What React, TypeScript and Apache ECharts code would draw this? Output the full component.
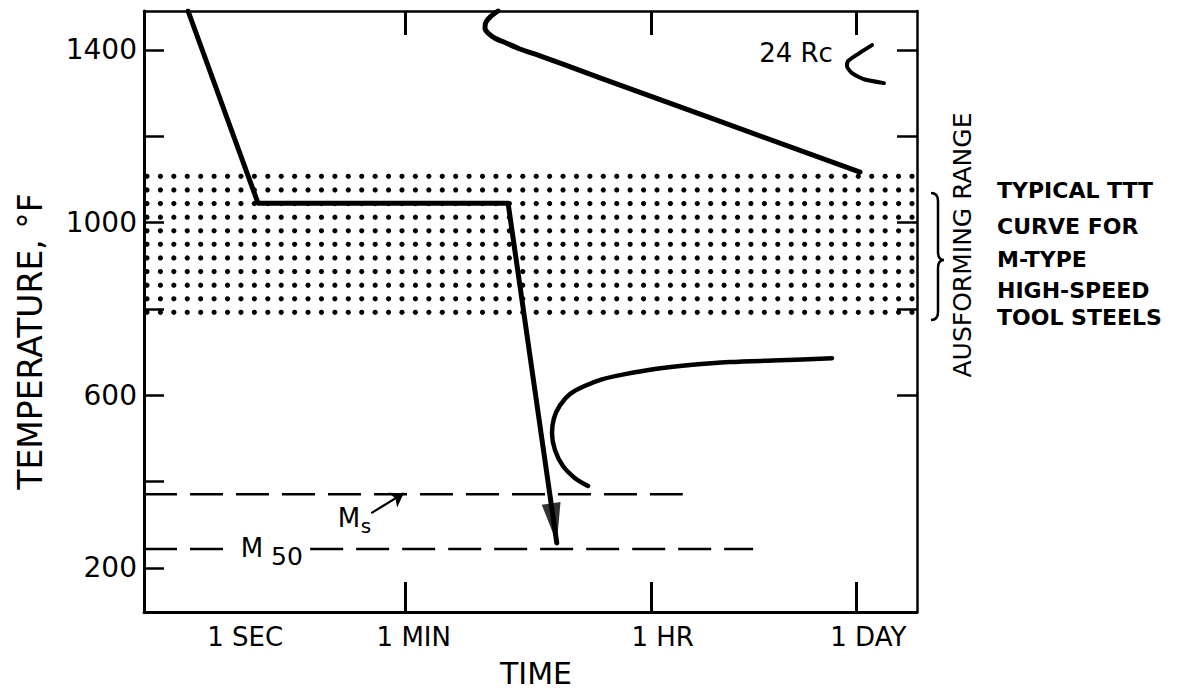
import React, { useEffect, useRef } from "react";
import * as echarts from "echarts";

// x axis: relative (hand-drawn) log-time position, 0 = left frame, 100 = right frame
const timeTickPositions = [33.8, 65.6, 92.1];
const timeLabelPositions = [13.1, 34.9, 67.1, 93.7];
const timeLabels = ["1 SEC", "1 MIN", "1 HR", "1 DAY"];

// y axis: temperature, °F
const tempMin = 98;
const tempMax = 1490;
const tempLabelValues = [200, 600, 1000, 1400];
const tempTicksLeft = [200, 400, 600, 800, 1000, 1200, 1400];
const tempTicksRight = [600, 800, 1000, 1200, 1400];

// ausforming range (dotted band)
const ausformLow = 792;
const ausformHigh = 1107;

// processing path (cool, hold, quench)
const coolingPath: number[][] = [
  [5.7, 1490],
  [14.75, 1045],
  [47.1, 1045],
  [53.4, 258],
];

// upper (pearlite) TTT curve
const upperCurve: number[][] = [
  [45.8, 1490],
  [44.89, 1478],
  [44.24, 1464],
  [44.11, 1450],
  [44.5, 1439],
  [45.41, 1427],
  [46.83, 1416],
  [48.64, 1402],
  [51.23, 1386],
  [54.46, 1365],
  [58.99, 1335],
  [92.63, 1117],
];

// lower (bainite) TTT curve
const lowerCurve: number[][] = [
  [57.44, 390],
  [55.76, 408],
  [54.2, 436],
  [53.17, 473],
  [52.78, 512],
  [53.04, 547],
  [53.82, 577],
  [55.11, 603],
  [56.92, 621],
  [59.25, 637],
  [62.23, 649],
  [66.11, 661],
  [70.63, 670],
  [75.81, 677],
  [82.28, 681],
  [89.0, 686],
];

// 24 Rc hardness curve
const hardnessCurve: number[][] = [
  [94.18, 1411],
  [92.5, 1392],
  [91.07, 1374],
  [90.94, 1362],
  [91.59, 1346],
  [93.14, 1332],
  [95.73, 1323],
];

// martensite temperatures
const msTemp = 371;
const msEnd = 69.7;
const m50Temp = 244;
const m50GapStart = 11.5;
const m50GapEnd = 21.5;
const m50End = 78.8;

const FONT = "'DejaVu Sans', sans-serif";

export default function App() {
  const ref = useRef<HTMLDivElement>(null);

  useEffect(() => {
    const braceD =
      "M931,193 Q938,193 938,201 L938,252 Q938,260 944,260 Q938,260 938,268 L938,312 Q938,320 931,320";
    try {
      echarts.graphic.registerShape("brace", echarts.graphic.extendPath(braceD, {}) as any);
    } catch (e) {
      /* ignore */
    }
    const chart = echarts.init(ref.current as HTMLDivElement, null, { renderer: "svg" });

    const lineBase = {
      type: "line" as const,
      symbol: "none",
      silent: true,
      xAxisIndex: 0,
      yAxisIndex: 0,
    };

    const textPoint = (value: number[], text: string, size: number) => ({
      value,
      label: {
        show: true,
        position: "inside",
        formatter: text,
        fontSize: size,
        fontFamily: FONT,
        color: "#000",
        opacity: 1,
        textBorderWidth: 0,
      },
    });

    const option: any = {
      animation: false,
      backgroundColor: "#fff",
      grid: { left: 144, right: 260, top: 11, bottom: 81, containLabel: false, outerBoundsMode: "none" },
      xAxis: [
        {
          type: "value",
          position: "bottom",
          min: 0,
          max: 100,
          axisLine: { show: true, onZero: false, lineStyle: { color: "#000", width: 3 } },
          axisTick: {
            show: true,
            inside: true,
            length: 30,
            customValues: timeTickPositions,
            lineStyle: { color: "#000", width: 3 },
          },
          axisLabel: {
            show: true,
            customValues: timeLabelPositions,
            formatter: (v: number) => {
              const i = timeLabelPositions.findIndex((p) => Math.abs(p - v) < 1e-6);
              return i >= 0 ? timeLabels[i] : "";
            },
            fontSize: 26,
            fontFamily: FONT,
            color: "#000",
            margin: 12,
          },
          splitLine: { show: false },
          name: "TIME",
          nameLocation: "middle",
          nameGap: 46,
          nameTextStyle: { fontSize: 30, fontFamily: FONT, color: "#000", padding: [0, 0, 0, 11] },
        },
        {
          type: "value",
          position: "top",
          min: 0,
          max: 100,
          axisLine: { show: true, onZero: false, lineStyle: { color: "#000", width: 2.5 } },
          axisTick: {
            show: true,
            inside: true,
            length: 24,
            customValues: timeTickPositions,
            lineStyle: { color: "#000", width: 3 },
          },
          axisLabel: { show: false },
          splitLine: { show: false },
        },
      ],
      yAxis: [
        {
          type: "value",
          position: "left",
          min: tempMin,
          max: tempMax,
          axisLine: { show: true, onZero: false, lineStyle: { color: "#000", width: 3 } },
          axisTick: {
            show: true,
            inside: true,
            length: 20,
            customValues: tempTicksLeft,
            lineStyle: { color: "#000", width: 2.5 },
          },
          axisLabel: {
            show: true,
            customValues: tempLabelValues,
            formatter: (v: number) => String(v),
            fontSize: 28,
            fontFamily: FONT,
            color: "#000",
            margin: 7,
          },
          splitLine: { show: false },
          name: "TEMPERATURE, °F",
          nameLocation: "middle",
          nameRotate: 90,
          nameGap: 97,
          nameTextStyle: { fontSize: 33, fontFamily: FONT, color: "#000", padding: [0, 60, 0, 0] },
        },
        {
          type: "value",
          position: "right",
          min: tempMin,
          max: tempMax,
          axisLine: { show: true, onZero: false, lineStyle: { color: "#000", width: 2.5 } },
          axisTick: {
            show: true,
            inside: true,
            length: 20,
            customValues: tempTicksRight,
            lineStyle: { color: "#000", width: 2.5 },
          },
          axisLabel: { show: false },
          splitLine: { show: false },
        },
      ],
      graphic: [
        {
          type: "text",
          x: 962,
          y: 245,
          rotation: Math.PI / 2,
          style: {
            text: "AUSFORMING RANGE",
            fontSize: 25,
            fontFamily: FONT,
            fill: "#000",
            textAlign: "center",
            textVerticalAlign: "middle",
          },
        },
        {
          type: "brace",
          x: 0,
          y: 0,
          style: { stroke: "#000", fill: "none", lineWidth: 2.5 },
        },
        ...[
          ["TYPICAL TTT", 190],
          ["CURVE FOR", 226],
          ["M-TYPE", 259],
          ["HIGH-SPEED", 290],
          ["TOOL STEELS", 317],
        ].map(([t, y]) => ({
          type: "text",
          x: 997,
          y: y as number,
          style: {
            text: t as string,
            fontSize: 22,
            fontWeight: "bold",
            fontFamily: FONT,
            fill: "#000",
            textAlign: "left",
            textVerticalAlign: "middle",
          },
        })),
      ],
      series: [
        {
          type: "custom",
          silent: true,
          xAxisIndex: 0,
          yAxisIndex: 0,
          clip: false,
          z: 1,
          data: [[0, ausformLow, 100, ausformHigh]],
          encode: { x: [0, 2], y: [1, 3] },
          renderItem: (params: any, api: any) => {
            const pTL = api.coord([api.value(0), api.value(3)]);
            const pBR = api.coord([api.value(2), api.value(1)]);
            const left = pTL[0] + 3;
            const right = pBR[0] - 5;
            const top = pTL[1];
            const bottom = pBR[1];
            const rows = 11;
            const cols = 58;
            const children: any[] = [];
            for (let r = 0; r < rows; r++) {
              for (let c = 0; c < cols; c++) {
                children.push({
                  type: "circle",
                  shape: {
                    cx: left + (c * (right - left)) / (cols - 1),
                    cy: top + (r * (bottom - top)) / (rows - 1),
                    r: 2.6,
                  },
                  style: { fill: "#000" },
                });
              }
            }
            return { type: "group", children };
          },
        },
        {
          ...lineBase,
          data: [
            [0, msTemp],
            [msEnd, msTemp],
          ],
          lineStyle: { color: "#000", width: 2.5, type: [33, 13] },
          markLine: {
            silent: true,
            symbol: ["none", "arrow"],
            symbolSize: 13,
            label: { show: false },
            lineStyle: { color: "#000", width: 2.2, type: "solid" },
            data: [[{ coord: [29.4, 327] }, { coord: [33.6, 373] }]],
          },
        },
        {
          ...lineBase,
          data: [
            [0, m50Temp],
            [m50GapStart, m50Temp],
            [(m50GapStart + m50GapEnd) / 2, "-"],
            [m50GapEnd, m50Temp],
            [m50End, m50Temp],
          ],
          connectNulls: false,
          lineStyle: { color: "#000", width: 2.5, type: [33, 13] },
        },
        {
          ...lineBase,
          data: coolingPath,
          lineStyle: { color: "#000", width: 5, cap: "round", join: "round" },
          z: 5,
        },
        {
          type: "scatter",
          silent: true,
          xAxisIndex: 0,
          yAxisIndex: 0,
          z: 6,
          symbol: "path://M0,0 L10,0 L5,24 Z",
          symbolSize: [19, 40],
          symbolRotate: 8.2,
          symbolOffset: [-2.8, -19.8],
          itemStyle: { color: "#000" },
          data: [coolingPath[coolingPath.length - 1]],
        },
        {
          ...lineBase,
          data: upperCurve,
          smooth: 0.3,
          lineStyle: { color: "#000", width: 5, cap: "round", join: "round" },
        },
        {
          ...lineBase,
          data: lowerCurve,
          smooth: 0.3,
          lineStyle: { color: "#000", width: 4.5, cap: "round", join: "round" },
        },
        {
          ...lineBase,
          data: hardnessCurve,
          smooth: 0.2,
          lineStyle: { color: "#000", width: 4, cap: "round", join: "round" },
        },
        {
          type: "scatter",
          silent: true,
          xAxisIndex: 0,
          yAxisIndex: 0,
          symbolSize: 0,
          itemStyle: { color: "#000" },
          emphasis: { disabled: true },
          z: 7,
          data: [
            textPoint([84.35, 1392], "24 Rc", 26),
            textPoint([26.5, 316], "M", 26),
            textPoint([28.7, 298], "s", 20),
            textPoint([13.97, 247], "M", 26),
            textPoint([18.5, 226], "50", 25),
          ],
        },
      ],
    };

    chart.setOption(option);
    return () => chart.dispose();
  }, []);

  return (
    <div
      ref={ref}
      style={{ position: "fixed", left: 0, top: 0, width: 1177, height: 693, background: "#fff" }}
    />
  );
}
